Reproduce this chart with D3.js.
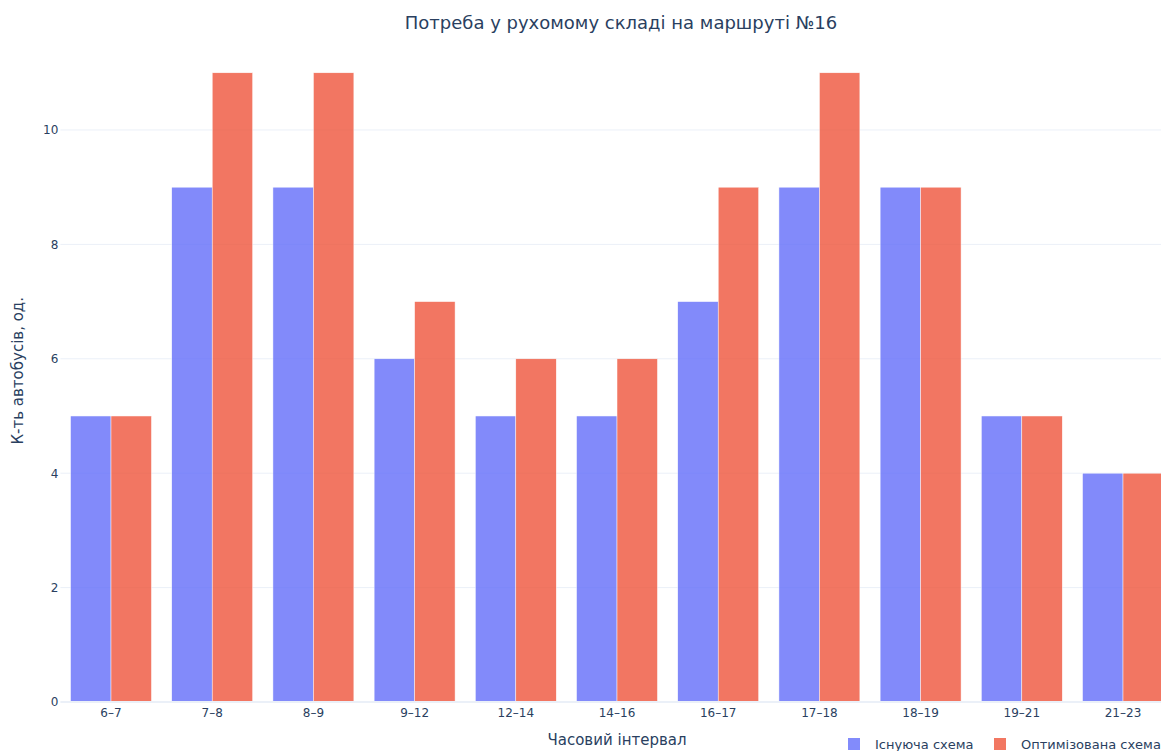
<!DOCTYPE html>
<html>
<head>
<meta charset="utf-8">
<script src="https://cdn.jsdelivr.net/npm/d3@7"></script>
<style>
  html, body { margin: 0; padding: 0; background: #fff; overflow: hidden; }
  svg { display: block; font-family: "DejaVu Sans", Verdana, sans-serif; }
</style>
</head>
<body>
<svg id="chart" width="1161" height="751"></svg>
<script>
// Time intervals along route №16
const intervals = ["6–7", "7–8", "8–9", "9–12", "12–14", "14–16", "16–17", "17–18", "18–19", "19–21", "21–23"];
// Bus counts: current schedule vs optimised schedule
const currentScheme = [5, 9, 9, 6, 5, 5, 7, 9, 9, 5, 4];
const optimisedScheme = [5, 11, 11, 7, 6, 6, 9, 11, 9, 5, 4];
const seriesNames = ["Існуюча схема", "Оптимізована схема"];
const yTicks = [0, 2, 4, 6, 8, 10];

const colors = ["#636efa", "#ef553b"];
const textColor = "#2a3f5f";
const gridColor = "#ebf0f8";

const svg = d3.select("#chart");
const margin = { left: 60.4, right: 1173.6, top: 39.6, bottom: 702 };

const x = d3.scaleBand()
  .domain(intervals)
  .range([margin.left, margin.right])
  .paddingInner(0.2)
  .paddingOuter(0.1);

const xSub = d3.scaleBand()
  .domain(seriesNames)
  .range([0, x.bandwidth()]);

const y = d3.scaleLinear()
  .domain([0, 11.58])
  .range([margin.bottom, margin.top]);

// Horizontal gridlines
svg.append("g")
  .selectAll("line")
  .data(yTicks.filter(d => d > 0))
  .join("line")
  .attr("x1", margin.left)
  .attr("x2", margin.right)
  .attr("y1", d => y(d))
  .attr("y2", d => y(d))
  .attr("stroke", gridColor)
  .attr("stroke-width", 1);

// Bars
const series = [currentScheme, optimisedScheme];
const groups = svg.append("g");
series.forEach((vals, si) => {
  groups.append("g")
    .selectAll("rect")
    .data(vals.map((v, i) => ({ cat: intervals[i], v })))
    .join("rect")
    .attr("x", d => x(d.cat) + xSub(seriesNames[si]))
    .attr("width", xSub.bandwidth())
    .attr("y", d => y(d.v))
    .attr("height", d => y(0) - y(d.v))
    .attr("fill", colors[si])
    .attr("stroke", "#ffffff")
    .attr("stroke-width", 0.5)
    .attr("opacity", 0.8);
});

// Zero line
svg.append("line")
  .attr("x1", margin.left)
  .attr("x2", margin.right)
  .attr("y1", y(0))
  .attr("y2", y(0))
  .attr("stroke", gridColor)
  .attr("stroke-width", 2);

// Y axis tick labels
const yAxis = d3.axisLeft(y).tickValues(yTicks).tickSize(0).tickPadding(0);
const yg = svg.append("g")
  .attr("transform", `translate(${margin.left - 2},0)`)
  .call(yAxis);
yg.select(".domain").remove();
yg.selectAll("text")
  .attr("fill", textColor)
  .attr("font-size", 12)
  .attr("font-family", "DejaVu Sans, sans-serif");

// X axis tick labels
const xAxis = d3.axisBottom(x).tickSize(0).tickPadding(6);
const xg = svg.append("g")
  .attr("transform", `translate(0,${y(0)})`)
  .call(xAxis);
xg.select(".domain").remove();
xg.selectAll("text")
  .attr("fill", textColor)
  .attr("font-size", 12)
  .attr("font-family", "DejaVu Sans, sans-serif");

// Chart title
svg.append("text")
  .attr("x", 621)
  .attr("y", 29)
  .attr("text-anchor", "middle")
  .attr("fill", textColor)
  .attr("font-size", 18)
  .text("Потреба у рухомому складі на маршруті №16");

// Axis titles
svg.append("text")
  .attr("x", (margin.left + margin.right) / 2)
  .attr("y", 745)
  .attr("text-anchor", "middle")
  .attr("fill", textColor)
  .attr("font-size", 15)
  .text("Часовий інтервал");

svg.append("text")
  .attr("transform", `translate(23,${(margin.top + margin.bottom) / 2}) rotate(-90)`)
  .attr("text-anchor", "middle")
  .attr("fill", textColor)
  .attr("font-size", 15)
  .text("К-ть автобусів, од.");

// Legend
const legendItems = [
  { name: seriesNames[0], color: colors[0], x: 848 },
  { name: seriesNames[1], color: colors[1], x: 994 }
];
const lg = svg.append("g");
legendItems.forEach(it => {
  lg.append("rect")
    .attr("x", it.x)
    .attr("y", 738)
    .attr("width", 12)
    .attr("height", 12)
    .attr("fill", it.color)
    .attr("opacity", 0.8);
  lg.append("text")
    .attr("x", it.x + 27)
    .attr("y", 749)
    .attr("fill", textColor)
    .attr("font-size", 13)
    .text(it.name);
});
</script>
</body>
</html>
